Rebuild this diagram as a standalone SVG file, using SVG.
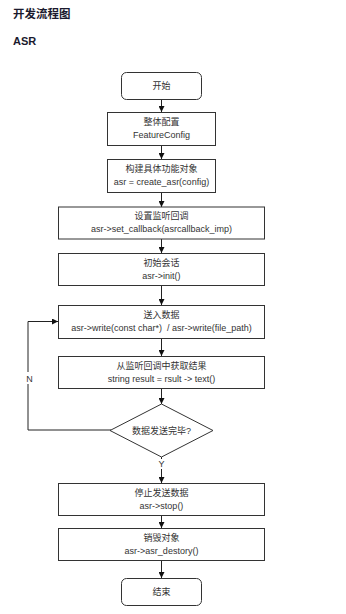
<svg xmlns="http://www.w3.org/2000/svg" width="346" height="614" viewBox="0 0 346 614">
<style>
.t{font-family:"Liberation Sans","Noto Sans CJK SC",Arial,sans-serif;font-size:9px;fill:#333;text-anchor:middle}
.h{font-family:"Liberation Sans","Noto Sans CJK SC",Arial,sans-serif;font-weight:bold;fill:#1a1a2e}
.b{fill:#fff;stroke:#333;stroke-width:1}
.c{fill:none;stroke:#222;stroke-width:1}
</style>
<defs>
<marker id="a" viewBox="0 0 8 8" refX="8" refY="4" markerWidth="6" markerHeight="6" markerUnits="userSpaceOnUse" orient="auto"><path d="M0,0 L8,4 L0,8 Z" fill="#111"/></marker>
</defs>
<rect width="346" height="614" fill="#fff"/>
<text class="h" x="13" y="18" font-size="11.5">开发流程图</text>
<text class="h" x="13" y="45" font-size="11">ASR</text>
<g id="connectors">
<path class="c" d="M161.5,99 V112" marker-end="url(#a)"/>
<path class="c" d="M161.5,146 V159" marker-end="url(#a)"/>
<path class="c" d="M161.5,193 V207" marker-end="url(#a)"/>
<path class="c" d="M161.5,239 V253" marker-end="url(#a)"/>
<path class="c" d="M161.5,286 V305" marker-end="url(#a)"/>
<path class="c" d="M161.5,338 V356" marker-end="url(#a)"/>
<path class="c" d="M161.5,389 V404" marker-end="url(#a)"/>
<path class="c" d="M161.5,457 V483" marker-end="url(#a)"/>
<path class="c" d="M161.5,516 V528" marker-end="url(#a)"/>
<path class="c" d="M161.5,561 V578" marker-end="url(#a)"/>
<path class="c" d="M111,430 H28 V321.5 H58" marker-end="url(#a)"/>
<rect x="24" y="372" width="10" height="12" fill="#fff"/>
<text class="t" x="29.5" y="381.5">N</text>
<rect x="157" y="459" width="10" height="10" fill="#fff"/>
<text class="t" x="161.5" y="467">Y</text>
</g>
<g id="start"><rect class="b" x="121.5" y="72.5" width="80" height="27" rx="5"/><text class="t" x="161.5" y="89">开始</text></g>
<g id="config"><rect class="b" x="107.5" y="112.5" width="108" height="33"/><text class="t" x="161.5" y="125">整体配置</text><text class="t" x="161.5" y="138">FeatureConfig</text></g>
<g id="create"><rect class="b" x="107.5" y="159.5" width="108" height="33"/><text class="t" x="161.5" y="172">构建具体功能对象</text><text class="t" x="161.5" y="185">asr = create_asr(config)</text></g>
<g id="callback"><rect class="b" x="58.5" y="207" width="206" height="32"/><text class="t" x="161.5" y="219">设置监听回调</text><text class="t" x="161.5" y="232">asr-&gt;set_callback(asrcallback_imp)</text></g>
<g id="init"><rect class="b" x="58.5" y="253.5" width="206" height="32"/><text class="t" x="161.5" y="266">初始会话</text><text class="t" x="161.5" y="279">asr-&gt;init()</text></g>
<g id="write"><rect class="b" x="58.5" y="305.5" width="206" height="33"/><text class="t" x="161.5" y="318">送入数据</text><text class="t" x="161.5" y="331">asr-&gt;write(const char*)&#160; / asr-&gt;write(file_path)</text></g>
<g id="result"><rect class="b" x="58.5" y="356.5" width="206" height="32"/><text class="t" x="161.5" y="369">从监听回调中获取结果</text><text class="t" x="161.5" y="382">string result = rsult -&gt; text()</text></g>
<g id="decision"><path class="b" d="M161.5,404 L213,430.5 L161.5,457 L110,430.5 Z"/><text class="t" x="161.5" y="434">数据发送完毕?</text></g>
<g id="stop"><rect class="b" x="58.5" y="483.5" width="206" height="32"/><text class="t" x="161.5" y="496">停止发送数据</text><text class="t" x="161.5" y="509">asr-&gt;stop()</text></g>
<g id="destroy"><rect class="b" x="58.5" y="528.5" width="206" height="32"/><text class="t" x="161.5" y="541">销毁对象</text><text class="t" x="161.5" y="554">asr-&gt;asr_destory()</text></g>
<g id="end"><rect class="b" x="121.5" y="578.5" width="80" height="27" rx="5"/><text class="t" x="161.5" y="595">结束</text></g>
</svg>
